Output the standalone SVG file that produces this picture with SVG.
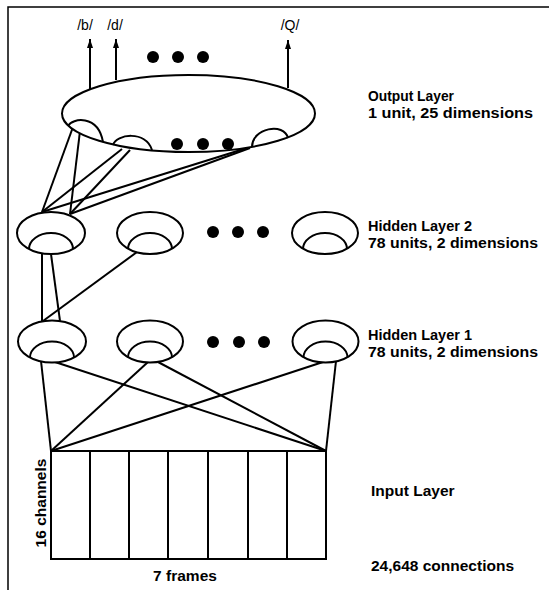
<svg xmlns="http://www.w3.org/2000/svg" width="549" height="590" viewBox="0 0 549 590">
<defs>
<style>
.s{fill:none;stroke:#000;stroke-width:2}
.b{fill:none;stroke:#000;stroke-width:1.5}
.node{fill:#fff;stroke:#000;stroke-width:2}
.dot{fill:#000}
.lbl{font-family:"Liberation Sans",Arial,sans-serif;font-weight:bold;font-size:15.5px;fill:#000}
.lbl2{font-family:"Liberation Sans",Arial,sans-serif;font-weight:bold;font-size:14.5px;fill:#000}
.top{font-family:"Liberation Sans",Arial,sans-serif;font-size:14px;fill:#000}
</style>
<marker id="ah2" viewBox="0 0 12 8" refX="12" refY="4" markerWidth="12" markerHeight="6" markerUnits="userSpaceOnUse" orient="auto">
<path d="M0,0 L12,4 L0,8 Z" fill="#000"/>
</marker>
</defs>
<rect width="549" height="590" fill="#fff"/>
<g id="frame">
<path class="b" d="M8,590 V7 H549"/>
</g>
<g id="connectors">
<line class="s" x1="90" y1="89" x2="90" y2="39" marker-end="url(#ah2)"/>
<line class="s" x1="116" y1="80" x2="116" y2="39" marker-end="url(#ah2)"/>
<line class="s" x1="288" y1="88" x2="288" y2="40" marker-end="url(#ah2)"/>
<line class="s" x1="73" y1="127" x2="42" y2="212"/>
<line class="s" x1="80" y1="131" x2="70" y2="214"/>
<line class="s" x1="122" y1="149" x2="42" y2="212"/>
<line class="s" x1="130" y1="150" x2="70" y2="214"/>
<line class="s" x1="247" y1="148" x2="42" y2="212"/>
<line class="s" x1="250" y1="148" x2="70" y2="214"/>
<line class="s" x1="42" y1="254" x2="42" y2="321"/>
<line class="s" x1="51" y1="254" x2="60" y2="321"/>
<line class="s" x1="137" y1="252" x2="43" y2="321"/>
<line class="s" x1="41" y1="361" x2="51" y2="451"/>
<line class="s" x1="55" y1="362" x2="326" y2="451"/>
<line class="s" x1="148" y1="362" x2="51" y2="451"/>
<line class="s" x1="158" y1="362" x2="326" y2="451"/>
<line class="s" x1="323" y1="362" x2="51" y2="451"/>
<line class="s" x1="336" y1="361" x2="326" y2="451"/>
</g>
<g id="output-layer">
<ellipse class="node" cx="188.5" cy="113.5" rx="126.5" ry="38.5"/>
<path class="s" d="M68,126 C72,118 98,114 103,142"/>
<path class="s" d="M113,145 C116,134 146,130 152,150"/>
<path class="s" d="M252,147 C252,128 284,122 288,138"/>
<circle class="dot" cx="177" cy="144" r="6"/>
<circle class="dot" cx="203" cy="144" r="6"/>
<circle class="dot" cx="228" cy="144" r="6"/>
</g>
<g id="output-dots">
<circle class="dot" cx="153" cy="57" r="6"/>
<circle class="dot" cx="178" cy="57" r="6"/>
<circle class="dot" cx="203" cy="57" r="6"/>
</g>
<g id="h2-n1">
<ellipse class="node" cx="51" cy="233" rx="34" ry="21"/>
<path class="s" d="M29,249 A22 16 0 0 1 73,249"/>
</g>
<g id="h2-n2">
<ellipse class="node" cx="150" cy="233" rx="33" ry="21"/>
<path class="s" d="M128,249 A22 16 0 0 1 172,249"/>
</g>
<g id="h2-n3">
<ellipse class="node" cx="325" cy="233" rx="33" ry="21"/>
<path class="s" d="M303,249 A22 16 0 0 1 347,249"/>
</g>
<g id="h2-dots">
<circle class="dot" cx="213" cy="232" r="6"/>
<circle class="dot" cx="238" cy="232" r="6"/>
<circle class="dot" cx="263" cy="232" r="6"/>
</g>
<g id="h1-n1">
<ellipse class="node" cx="52" cy="341.5" rx="34" ry="21"/>
<path class="s" d="M30,357.5 A22 16 0 0 1 74,357.5"/>
</g>
<g id="h1-n2">
<ellipse class="node" cx="150" cy="341.5" rx="33" ry="21"/>
<path class="s" d="M128,357.5 A22 16 0 0 1 172,357.5"/>
</g>
<g id="h1-n3">
<ellipse class="node" cx="325.5" cy="341.5" rx="33" ry="21"/>
<path class="s" d="M303.5,357.5 A22 16 0 0 1 347.5,357.5"/>
</g>
<g id="h1-dots">
<circle class="dot" cx="213" cy="342" r="6"/>
<circle class="dot" cx="239" cy="342" r="6"/>
<circle class="dot" cx="264" cy="342" r="6"/>
</g>
<g id="input-layer">
<rect class="s" x="51" y="451" width="275" height="108"/>
<path class="s" d="M90,451V559 M129,451V559 M168,451V559 M208,451V559 M248,451V559 M287,451V559"/>
<text class="lbl" x="40" y="503" text-anchor="middle" transform="rotate(-90 40 503)" dy="5.5">16 channels</text>
<text class="lbl" x="185" y="581" text-anchor="middle">7 frames</text>
</g>
<g id="labels">
<text class="top" x="85" y="30" text-anchor="middle">/b/</text>
<text class="top" x="115" y="30" text-anchor="middle">/d/</text>
<text class="top" x="290" y="30" text-anchor="middle">/Q/</text>
<text class="lbl2" x="368" y="100.5" textLength="86" lengthAdjust="spacingAndGlyphs">Output Layer</text>
<text class="lbl2" x="368" y="117.5" textLength="165" lengthAdjust="spacingAndGlyphs">1 unit, 25 dimensions</text>
<text class="lbl2" x="368" y="230.5">Hidden Layer 2</text>
<text class="lbl2" x="368" y="247.5" textLength="170" lengthAdjust="spacingAndGlyphs">78 units, 2 dimensions</text>
<text class="lbl2" x="368" y="340">Hidden Layer 1</text>
<text class="lbl2" x="368" y="357" textLength="170" lengthAdjust="spacingAndGlyphs">78 units, 2 dimensions</text>
<text class="lbl" x="371" y="496">Input Layer</text>
<text class="lbl" x="371" y="571">24,648 connections</text>
</g>
</svg>
